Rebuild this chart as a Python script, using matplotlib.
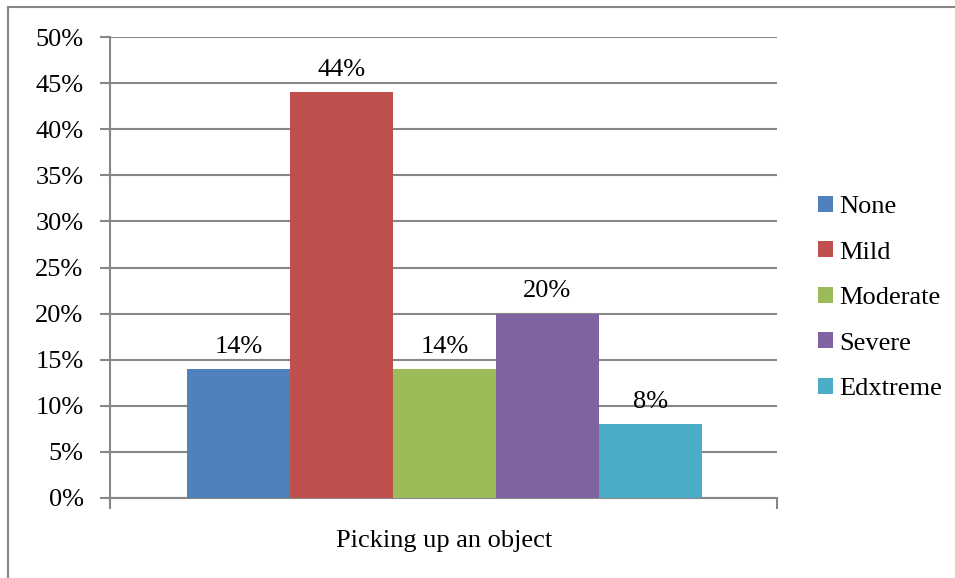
import matplotlib
matplotlib.use("Agg")
import matplotlib.pyplot as plt
from matplotlib.lines import Line2D
from matplotlib.patches import Patch
import numpy as np

plt.rcParams['font.family'] = ['Liberation Serif', 'DejaVu Serif']

# Data
category = "Picking up an object"
levels = ["None", "Mild", "Moderate", "Severe", "Edxtreme"]
shares = [14, 44, 14, 20, 8]
colors = ["#4F81BD", "#C0504D", "#9BBB59", "#8064A2", "#4BACC6"]
yticks = [0, 5, 10, 15, 20, 25, 30, 35, 40, 45, 50]

W, H = 955, 578
fig = plt.figure(figsize=(W / 100, H / 100), dpi=100)
ax = fig.add_axes([110 / W, 1 - 498 / H, 667 / W, 461 / H])

grid_c = "#878787"
fs = 19

bar_w = 103 / 667
n = len(levels)
offsets = (np.arange(n) - (n - 1) / 2) * bar_w
for off, v, c in zip(offsets, shares, colors):
    ax.bar(off, v, width=bar_w, color=c, zorder=3)
    ax.annotate(f"{v}%", xy=(off, v), xytext=(0, 8), textcoords="offset points",
                ha="center", va="bottom", fontsize=fs, color="black")

ax.set_xlim(-(444.5 - 110) / 667, (777 - 444.5) / 667)
ax.set_ylim(0, 50)
ax.set_yticks(yticks)
ax.set_yticklabels([f"{t}%" for t in yticks], fontsize=fs)
ax.yaxis.grid(True, color=grid_c, linewidth=1.5, zorder=0)
ax.set_axisbelow(True)

ax.set_xticks([ax.get_xlim()[0], ax.get_xlim()[1]])
ax.set_xticklabels(["", ""])
ax.tick_params(axis="x", length=8, width=1.5, color=grid_c, direction="out")
ax.tick_params(axis="y", length=7, width=1.5, color=grid_c, direction="out", pad=12)

for s in ["top", "right"]:
    ax.spines[s].set_visible(False)
for s in ["left", "bottom"]:
    ax.spines[s].set_color(grid_c)
    ax.spines[s].set_linewidth(1.5)

ax.text(0, -0.093, category, transform=ax.get_xaxis_transform(), ha="center",
        va="center", fontsize=fs)

handles = [Patch(facecolor=c, edgecolor="none") for c in colors]
fig.legend(handles, levels, loc="center left", bbox_to_anchor=(818 / W, 1 - 298 / H),
           frameon=False, fontsize=fs, handlelength=0.55, handleheight=0.55,
           handletextpad=0.25, labelspacing=0.88, borderpad=0, borderaxespad=0)

# outer chart frame
fig.add_artist(Line2D([8 / W, 8 / W], [0, 1 - 7 / H], color=grid_c, lw=1.5,
                      transform=fig.transFigure))
fig.add_artist(Line2D([8 / W, 1], [1 - 7 / H, 1 - 7 / H], color=grid_c, lw=1.5,
                      transform=fig.transFigure))

fig.savefig("out.png", dpi=100)
